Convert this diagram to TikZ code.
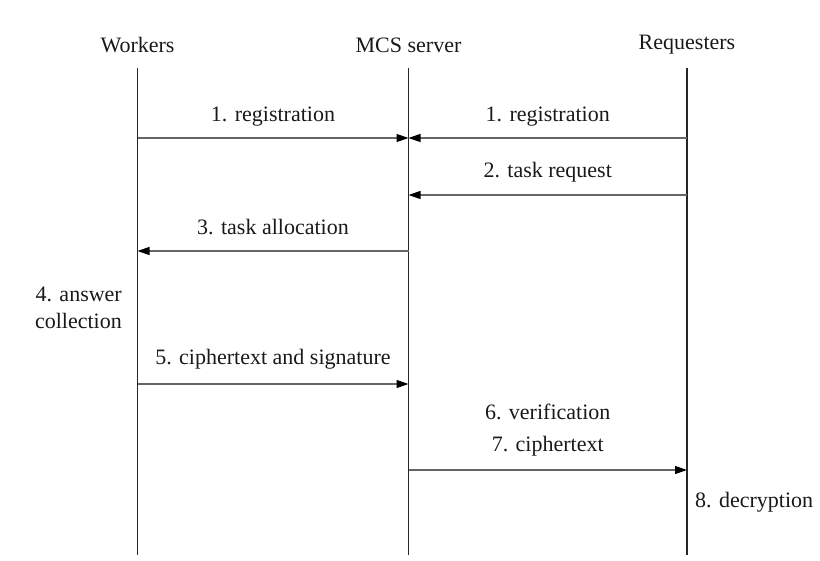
\documentclass[tikz,border=0pt]{standalone}
\usepackage{fontspec}
\setmainfont{Liberation Serif}
\usetikzlibrary{arrows.meta}
\begin{document}
\begin{tikzpicture}[x=1pt,y=-1pt,
  lbl/.style={font=\fontsize{22}{27}\selectfont, inner sep=0pt, text=black!90},
  life/.style={line width=1.4pt, black!85},
  msg/.style={line width=1.2pt, black!60, -{Triangle[length=12pt,width=8pt,color=black]}}]
\useasboundingbox (0,0) rectangle (820,561);
% headers
\node[lbl] (hw) at (137.5,45) {Workers};
\node[lbl] (hs) at (408.5,45) {MCS server};
\node[lbl] (hr) at (687,45) {Requesters};
% lifelines
\coordinate (wT) at (137.5,68); \coordinate (wB) at (137.5,555);
\coordinate (sT) at (408.5,68); \coordinate (sB) at (408.5,555);
\coordinate (rT) at (687,68);   \coordinate (rB) at (687,555);
\draw[life] (wT) -- (wB);
\draw[life] (sT) -- (sB);
\draw[life] (rT) -- (rB);
% message end points
\coordinate (w1) at (137.5,138); \coordinate (s1) at (408.5,138); \coordinate (r1) at (687,138);
\coordinate (s2) at (408.5,195); \coordinate (r2) at (687,195);
\coordinate (w3) at (137.5,251); \coordinate (s3) at (408.5,251);
\coordinate (w5) at (137.5,384); \coordinate (s5) at (408.5,384);
\coordinate (s7) at (408.5,470); \coordinate (r7) at (687,470);
\draw[msg] (w1) -- (s1);
\draw[msg] (r1) -- (s1);
\draw[msg] (r2) -- (s2);
\draw[msg] (s3) -- (w3);
\draw[msg] (w5) -- (s5);
\draw[msg] (s7) -- (r7);
% labels
\node[lbl] (l1a) at (273,117) {1. registration};
\node[lbl] (l1b) at (547.75,117) {1. registration};
\node[lbl] (l2) at (547.75,172) {2. task request};
\node[lbl] (l3) at (273,227) {3. task allocation};
\node[lbl, align=right, anchor=east] (l4) at (122,307.5) {4. answer\\collection};
\node[lbl] (l5) at (273,359) {5. ciphertext and signature};
\node[lbl] (l6) at (547.75,412) {6. verification};
\node[lbl] (l7) at (547.75,446) {7. ciphertext};
\node[lbl, anchor=west] (l8) at (695,502) {8. decryption};
\end{tikzpicture}
\end{document}
